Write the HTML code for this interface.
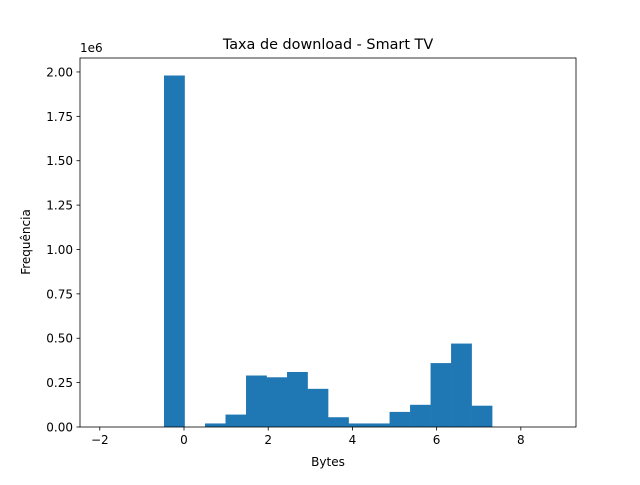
<!DOCTYPE html>
<html><head><meta charset="utf-8"><style>
body{margin:0;background:#fff;font-family:"Liberation Sans","DejaVu Sans",sans-serif}
svg text{font-family:"DejaVu Sans","Liberation Sans",sans-serif;fill:#000}
</style></head><body>
<svg id="chart" width="640" height="480" xmlns="http://www.w3.org/2000/svg">
<rect width="640" height="480" fill="#fff"/>
<g id="bars"></g>
<g id="axes"></g>
<text x="328" y="49" font-size="14.4" text-anchor="middle">Taxa de download - Smart TV</text>
<text x="328" y="466" font-size="12" text-anchor="middle">Bytes</text>
<text x="30" y="242" font-size="12" text-anchor="middle" transform="rotate(-90 30 242)">Frequência</text>
<text x="80" y="52" font-size="12">1e6</text>
</svg>
<script>
const binStart = -0.475;
const binWidth = 0.487;
const counts = [1.98,0,0.02,0.07,0.29,0.28,0.31,0.215,0.055,0.02,0.02,0.085,0.125,0.36,0.47,0.12];
const xTicks = [-2,0,2,4,6,8];
const yTicks = [0,0.25,0.5,0.75,1.0,1.25,1.5,1.75,2.0];
const yTickLabels = ["0.00","0.25","0.50","0.75","1.00","1.25","1.50","1.75","2.00"];
const L=80,R=576,T=58,B=427;
const xmin=-2.47,xmax=9.31,ymin=0,ymax=2.0786;
const sx=v=>L+(v-xmin)/(xmax-xmin)*(R-L);
const sy=v=>B-(v-ymin)/(ymax-ymin)*(B-T);
const NS="http://www.w3.org/2000/svg";
const bars=document.getElementById('bars'),axes=document.getElementById('axes');
counts.forEach((c,i)=>{
  if(c<=0)return;
  const r=document.createElementNS(NS,'rect');
  const x0=sx(binStart+i*binWidth),x1=sx(binStart+(i+1)*binWidth);
  r.setAttribute('x',x0);r.setAttribute('width',x1-x0+0.3);
  r.setAttribute('y',sy(c));r.setAttribute('height',sy(0)-sy(c));
  r.setAttribute('fill','#1f77b4');
  
  
  bars.appendChild(r);
});
const fr=document.createElementNS(NS,'rect');
fr.setAttribute('x',L);fr.setAttribute('y',T);fr.setAttribute('width',R-L);fr.setAttribute('height',B-T);
fr.setAttribute('fill','none');fr.setAttribute('stroke','#000');fr.setAttribute('stroke-width','0.8');


axes.appendChild(fr);
xTicks.forEach(t=>{
  const x=sx(t);
  const l=document.createElementNS(NS,'line');
  l.setAttribute('x1',x);l.setAttribute('x2',x);l.setAttribute('y1',B);l.setAttribute('y2',B+3.5);l.setAttribute('stroke','#000');l.setAttribute('stroke-width','0.8');
  
  
  axes.appendChild(l);
  const tx=document.createElementNS(NS,'text');
  tx.setAttribute('x',x);tx.setAttribute('y',B+17);tx.setAttribute('font-size','12');tx.setAttribute('text-anchor','middle');
  tx.textContent=(t<0?'\u2212'+(-t):t);
  
  
  axes.appendChild(tx);
});
yTicks.forEach((t,i)=>{
  const y=sy(t);
  const l=document.createElementNS(NS,'line');
  l.setAttribute('x1',L-3.5);l.setAttribute('x2',L);l.setAttribute('y1',y);l.setAttribute('y2',y);l.setAttribute('stroke','#000');l.setAttribute('stroke-width','0.8');
  
  
  axes.appendChild(l);
  const tx=document.createElementNS(NS,'text');
  tx.setAttribute('x',L-7);tx.setAttribute('y',y+4.5);tx.setAttribute('font-size','12');tx.setAttribute('text-anchor','end');
  tx.textContent=yTickLabels[i];
  
  
  axes.appendChild(tx);
});
</script>
</body></html>
